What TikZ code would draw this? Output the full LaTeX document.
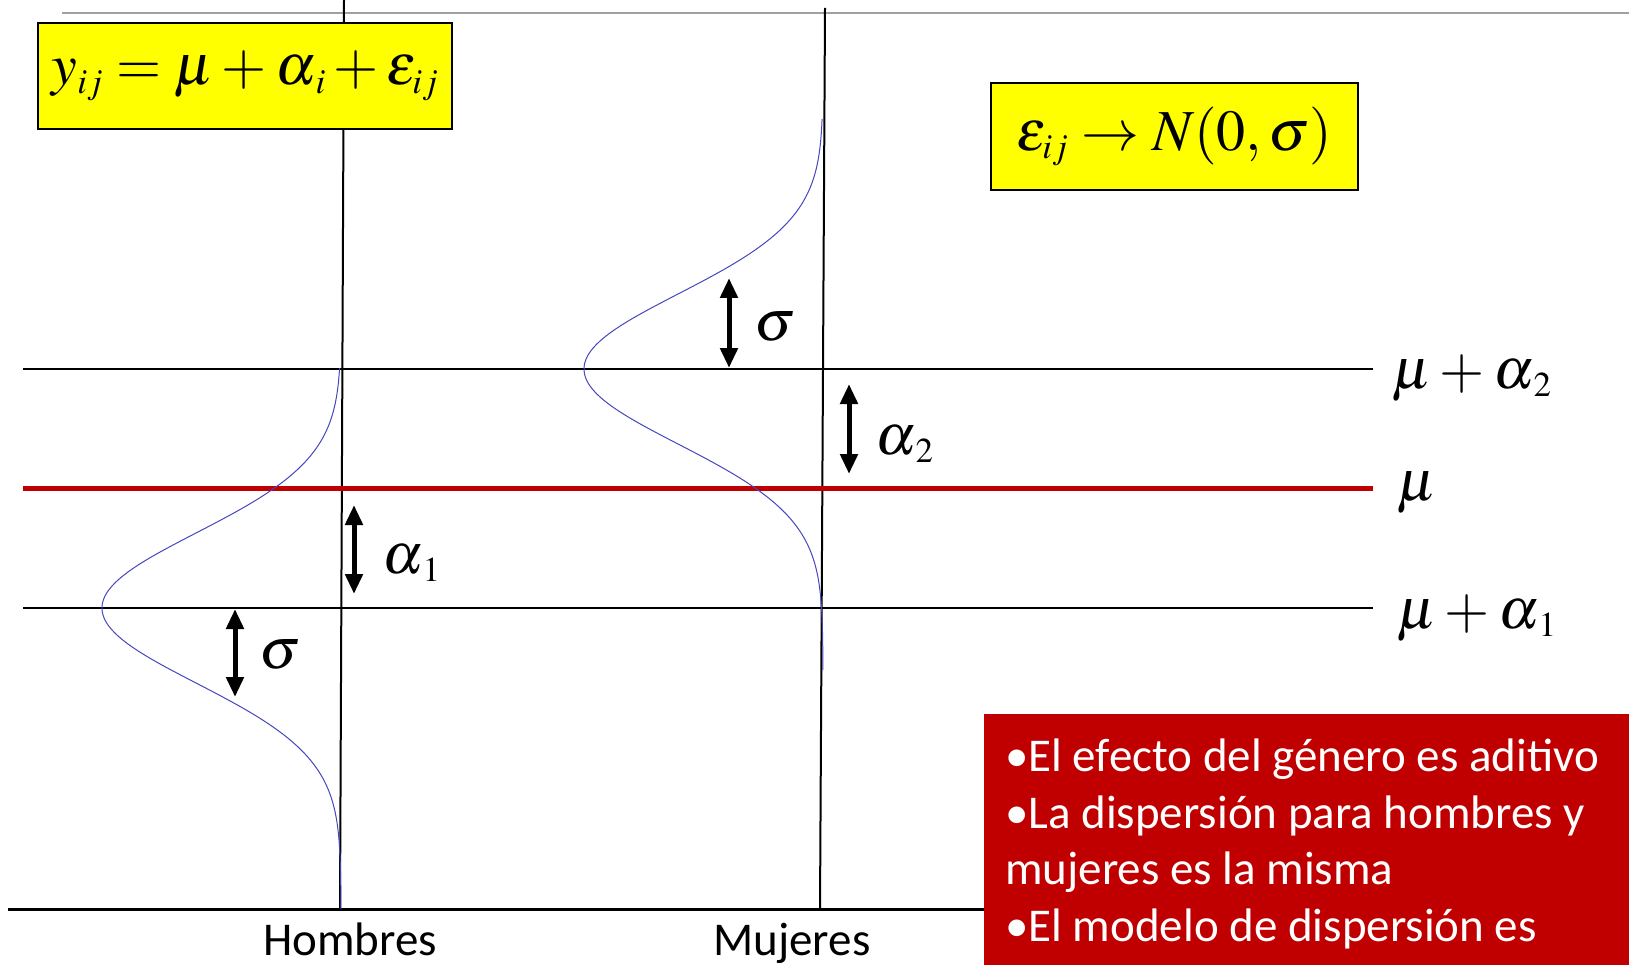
\documentclass[tikz,border=0pt]{standalone}
\usepackage{mathptmx}
\usepackage[no-math]{fontspec}
\setmainfont{Carlito}
\usepackage{tikz}
\usetikzlibrary{positioning,arrows.meta}
\usepackage{xcolor}
\definecolor{boxyellow}{RGB}{255,255,0}
\definecolor{meanred}{RGB}{192,0,0}
\definecolor{curveblue}{RGB}{70,70,190}
\definecolor{rulegray}{RGB}{160,160,160}
\DeclareMathSizes{58}{58}{35}{28}
\newcommand{\bigmath}{\fontsize{58}{70}\selectfont}
\newcommand{\bodyfont}{\fontsize{47}{57}\selectfont}

\begin{document}
\begin{tikzpicture}[x=1pt,y=-1pt,>={Triangle[length=20pt,width=17pt]},
  eqbox/.style={draw=black,line width=2pt,fill=boxyellow,inner sep=0pt,font=\bigmath},
  level/.style={line width=2pt},
  gauss/.style={draw=curveblue,line width=1pt},
  dim/.style={<->,line width=5pt},
  mlabel/.style={anchor=base west,inner sep=0pt,font=\bigmath},
  note/.style={anchor=base west,inner sep=0pt,text=white,font=\bodyfont}]
\useasboundingbox (0,0) rectangle (1629,965);
\draw[rulegray,line width=2pt] (62,13) -- (1629,13);
% group axes
\draw[level] (344,0) -- (340,909);
\draw[level] (825,8) -- (820,909);
% levels
\draw[level] (23,369) -- (1373,369);
\draw[meanred,line width=5pt] (23,488) -- (1373,488);
\draw[level] (23,608) -- (1373,608);
\draw[line width=3pt] (8,909) -- (990,909);
% normal curves
\draw[gauss] plot[domain=-240:301,samples=150,variable=\t] ({341-239*exp(-0.5*(\t/75)^2)},{608+\t});
\draw[gauss] plot[domain=-250:301,samples=150,variable=\t] ({823-239*exp(-0.5*(\t/75)^2)},{369+\t});
% formulas
\node[eqbox,minimum width=414,minimum height=106] (model) at (245,76) {$y_{ij}=\mu+\alpha_{\,i}+\varepsilon_{ij}$};
\node[eqbox,minimum width=367,minimum height=107] (error) at (1174.5,136.5) {$\varepsilon_{ij}\rightarrow N(0,\sigma)$};
% spreads and effects
\coordinate (sh1) at (235,609); \coordinate (sh2) at (235,697);
\coordinate (a11) at (354,505); \coordinate (a12) at (354,594);
\coordinate (sm1) at (729,278); \coordinate (sm2) at (729,368);
\coordinate (a21) at (849,384); \coordinate (a22) at (849,474);
\draw[dim] (sh1) -- (sh2);
\draw[dim] (a11) -- (a12);
\draw[dim] (sm1) -- (sm2);
\draw[dim] (a21) -- (a22);
\node[mlabel] (sighom) at (259,668) {$\sigma$};
\node[mlabel] (alpha1) at (382,573) {$\alpha_{\,1}$};
\node[mlabel] (sigmuj) at (754,340) {$\sigma$};
\node[mlabel] (alpha2) at (875,454) {$\alpha_{\,2}$};
% level labels
\node[mlabel] (lev2) at (1392,388) {$\mu+\alpha_{\,2}$};
\node[mlabel] (lev0) at (1397,500) {$\mu$};
\node[mlabel] (lev1) at (1397,628) {$\mu+\alpha_{\,1}$};
% groups
\node[anchor=base,inner sep=0pt,font=\bodyfont] (hombres) at (350,955) {Hombres};
\node[anchor=base,inner sep=0pt,font=\bodyfont] (mujeres) at (792,955) {Mujeres};
% remarks
\node[fill=meanred,anchor=north west,minimum width=645,minimum height=251,inner sep=0pt] (notes) at (984,714) {};
\node[note] (n1) at (1005,771) {•El efecto del género es aditivo};
\node[note] (n2) at (1005,828) {•La dispersión para hombres y};
\node[note] (n3) at (1005,884) {mujeres es la misma};
\node[note] (n4) at (1005,941) {•El modelo de dispersión es};
\end{tikzpicture}
\end{document}
